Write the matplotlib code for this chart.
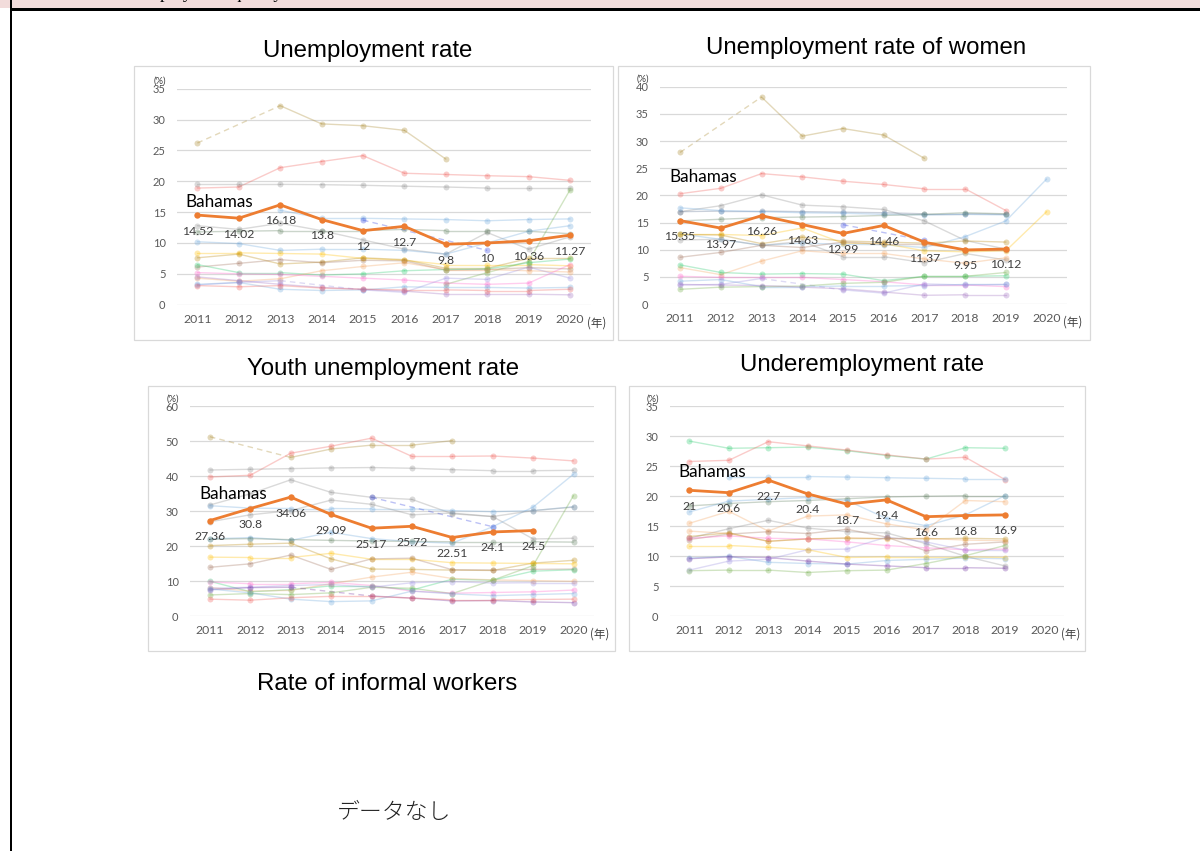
import matplotlib
matplotlib.use("Agg")
import matplotlib.pyplot as plt
import numpy as np
from matplotlib.patches import Rectangle

W, H = 1200, 851
N = None

years = ["2011", "2012", "2013", "2014", "2015", "2016", "2017", "2018", "2019", "2020"]

# ---------------- data ----------------
# Colours of the comparison countries (drawn faded)
TAN = '#A8872A'; SALMON = '#F0605A'; GRAY = '#8C8C8C'; LBLUE = '#6FA8DC'
BLUEGRAY = '#5B6F8E'; GREENGRAY = '#5E7F5E'; YELLOW = '#FFC000'; GOLD = '#B8860B'
BROWN = '#A0705A'; GREEN = '#70AD47'; MINT = '#2ECC71'; ORANGEL = '#F4A460'
PINK = '#FF66CC'; PURPLE = '#7030A0'; LPURPLE = '#9B8FE0'; BLUE = '#3040E0'; MAUVE = '#A070C0'

bah_unemp = [14.52, 14.02, 16.18, 13.8, 12, 12.7, 9.8, 10, 10.36, 11.27]
others_unemp = [
    (TAN,      [26.2, N, 32.25, 29.3, 29.0, 28.25, 23.6, N, N, N]),
    (SALMON,   [18.9, 19.07, 22.2, 23.2, 24.15, 21.3, 21.1, 20.9, 20.75, 20.15]),
    (GRAY,     [19.5, 19.5, 19.5, 19.45, 19.35, 19.2, 19.07, 18.9, 18.9, 18.9]),
    (LBLUE,    [N, N, 15.3, 14.0, 14.0, 13.9, 13.8, 13.6, 13.8, 13.9]),
    (BLUE,     [N, N, N, N, 13.7, N, N, 8.8, N, N]),
    (GRAY,     [12.8, 12.2, 13.2, 12.0, 10.5, 9.0, 8.2, 11.7, 9.0, 11.0]),
    (GREENGRAY,[11.8, 11.9, 12.0, 12.0, 12.0, 12.2, 12.0, 12.0, 11.9, 11.5]),
    (LBLUE,    [10.2, 9.9, 8.8, 9.0, 9.0, 8.8, 8.2, 10.0, 11.9, 12.8]),
    (YELLOW,   [8.4, 8.4, 8.3, 8.2, 7.5, 7.2, 6.5, 6.5, 6.5, 6.3]),
    (GOLD,     [7.6, 8.2, 6.6, 6.9, 7.6, 7.3, 5.9, 5.9, 7.5, 7.5]),
    (BROWN,    [6.1, 6.7, 7.3, 6.8, 7.2, 7.1, 5.6, 5.7, 6.0, 5.8]),
    (MINT,     [6.5, 5.2, 5.2, 4.8, 5.0, 5.5, 5.7, 5.8, 6.8, 7.4]),
    (GREEN,    [N, N, N, N, N, N, 3.3, 5.2, 7.0, 18.6]),
    (ORANGEL,  [4.3, 3.8, 4.2, 5.5, 6.2, 6.8, 5.7, 5.7, 5.5, 5.3]),
    (PINK,     [5.2, 5.0, 4.9, 4.6, 4.3, 4.0, 3.5, 3.3, 3.5, 6.5]),
    (LPURPLE,  [3.2, 3.6, 3.9, N, 2.4, 2.0, 4.3, 4.1, 6.1, 4.3]),
    (LBLUE,    [3.3, 3.6, 2.5, 2.3, 2.4, 2.9, 2.8, 2.8, 2.7, 2.8]),
    (MAUVE,    [4.5, 3.9, 3.3, 2.8, 2.5, 2.2, 1.7, 1.7, 1.7, 1.6]),
    (SALMON,   [3.1, 2.9, 3.1, 2.7, 2.5, 2.4, 2.4, 2.3, 2.3, 2.5]),
]

bah_women = [15.35, 13.97, 16.26, 14.63, 12.99, 14.46, 11.37, 9.95, 10.12, N]
others_women = [
    (TAN,      [27.9, N, 38.1, 30.9, 32.3, 31.1, 26.8, N, N, N]),
    (SALMON,   [20.3, 21.3, 24.0, 23.4, 22.6, 22.0, 21.2, 21.2, 17.2, N]),
    (GRAY,     [17.0, 18.1, 20.1, 18.2, 17.9, 17.4, 15.3, 11.7, 10.1, N]),
    (BLUEGRAY, [17.0, 17.1, 17.1, 17.0, 16.9, 16.8, 16.6, 16.6, 16.5, N]),
    (LBLUE,    [17.7, 17.2, 17.0, 16.8, 16.7, 16.5, 16.4, 16.5, 16.4, N]),
    (GREENGRAY,[15.3, 15.6, 15.9, 16.0, 16.1, 16.3, 16.5, 16.8, 16.6, N]),
    (LBLUE,    [12.9, 11.9, 10.8, 11.2, 11.0, 10.9, 10.4, 12.4, 15.3, 23.0]),
    (BLUE,     [N, N, N, N, 14.6, N, 11.7, N, N, N]),
    (YELLOW,   [12.8, 12.8, 12.6, 14.0, 11.2, 11.1, 9.8, 9.6, 9.8, 17.0]),
    (GOLD,     [12.8, 12.7, 11.1, 12.3, 11.6, 11.4, 11.2, 11.6, 11.4, N]),
    (GRAY,     [11.8, 11.9, 10.8, 11.5, 8.7, 8.7, 7.6, 9.3, 8.1, N]),
    (BROWN,    [8.6, 9.5, 10.8, 10.4, 11.4, 11.0, 11.0, 10.0, 10.0, N]),
    (ORANGEL,  [6.7, 5.4, 7.9, 9.8, 9.3, 9.3, 8.3, 7.5, 8.5, N]),
    (MINT,     [7.2, 5.8, 5.5, 5.6, 5.5, 4.3, 5.1, 5.1, 5.2, N]),
    (PINK,     [5.1, 4.9, 4.9, 4.9, 4.5, 4.1, 3.5, 3.5, 3.2, N]),
    (LBLUE,    [4.2, 4.5, 3.2, 3.2, 3.3, 3.3, 3.4, 3.6, 3.6, N]),
    (LPURPLE,  [3.5, 3.6, 4.7, N, 2.6, 2.0, 3.7, 3.5, 3.6, N]),
    (GREEN,    [2.7, 3.1, 3.2, 3.3, 3.8, 4.0, 5.1, 5.1, 5.8, N]),
    (MAUVE,    [3.6, 3.5, 3.4, 3.1, 2.8, 2.2, 1.6, 1.7, 1.7, N]),
]

bah_youth = [27.36, 30.8, 34.06, 29.09, 25.17, 25.72, 22.51, 24.1, 24.5, N]
others_youth = [
    (TAN,      [51.3, N, 45.4, 47.8, 48.9, 48.9, 50.2, N, N, N]),
    (SALMON,   [39.8, 40.3, 46.6, 48.6, 50.9, 45.7, 45.7, 45.8, 45.2, 44.4]),
    (GRAY,     [41.8, 42.0, 42.2, 42.4, 42.5, 42.3, 41.9, 41.6, 41.6, 41.7]),
    (GRAY,     [31.8, 35.0, 39.0, 35.4, 34.0, 33.4, 29.3, 28.5, 22.1, 22.3]),
    (LBLUE,    [31.6, 30.9, 30.8, 30.8, 30.7, 30.7, 30.2, 29.9, 30.2, 31.3]),
    (LBLUE,    [22.1, 22.5, 21.7, 24.0, 22.2, 21.3, 20.9, 25.6, 31.2, 40.6]),
    (GRAY,     [27.0, 29.0, 30.2, 33.2, 32.0, 29.0, 29.5, 28.5, 30.2, 31.2]),
    (BLUE,     [N, N, N, N, 34.0, N, N, 25.6, N, N]),
    (GREENGRAY,[22.0, 22.2, 21.9, 21.7, 21.5, 21.4, 21.3, 21.3, 21.3, 21.2]),
    (GOLD,     [20.2, 20.6, 20.9, 16.4, 13.5, 13.4, 13.2, 13.1, 15.2, 16.0]),
    (YELLOW,   [16.9, 16.8, 16.8, 18.0, 16.3, 16.3, 15.3, 15.2, 15.1, 15.0]),
    (BROWN,    [14.0, 15.0, 17.5, 13.4, 16.4, 16.6, 13.3, 13.2, 13.4, 13.5]),
    (GREEN,    [6.1, 6.5, 6.2, 6.7, 8.3, 8.0, 6.5, 10.3, 14.5, 34.5]),
    (MINT,     [10.0, 7.0, 7.6, 8.7, 8.7, 7.5, 10.6, 10.3, 12.9, 13.3]),
    (ORANGEL,  [8.2, 7.2, 7.4, 9.3, 11.2, 12.6, 10.8, 10.4, 10.2, 10.0]),
    (PINK,     [9.8, 9.3, 9.3, 9.7, 8.8, 7.2, 6.6, 6.8, 7.0, 7.5]),
    (LPURPLE,  [8.0, 8.3, 8.8, 9.1, 8.3, 9.6, 9.9, 9.5, 9.6, 9.6]),
    (PURPLE,   [7.6, 8.2, 8.3, N, 5.8, 5.2, 4.4, 4.5, 4.1, 3.9]),
    (LBLUE,    [7.8, 6.7, 4.9, 4.2, 4.4, 7.2, 6.4, 5.9, 6.2, 6.5]),
    (SALMON,   [4.9, 4.6, 5.3, 5.7, 5.7, 5.2, 4.7, 4.7, 4.8, 4.9]),
]

bah_under = [21, 20.6, 22.7, 20.4, 18.7, 19.4, 16.6, 16.8, 16.9, N]
others_under = [
    (MINT,     [29.2, 28.0, 28.1, 28.2, 27.6, 26.8, 26.2, 28.1, 28.0, N]),
    (SALMON,   [25.8, 26.0, 29.1, 28.4, 27.7, 26.9, 26.2, 26.5, 22.8, N]),
    (LBLUE,    [N, 23.3, 23.3, 23.3, 23.2, 23.1, 23.0, 22.9, 22.9, N]),
    (GREENGRAY,[18.4, 18.8, 19.1, 19.3, 19.6, 19.9, 20.0, 20.1, 20.1, N]),
    (LBLUE,    [17.4, 19.2, 19.5, 19.8, 19.3, 16.3, 15.1, 16.9, 20.1, N]),
    (ORANGEL,  [15.5, 17.5, 14.2, 16.7, 16.9, 15.4, 14.4, 19.3, 19.1, N]),
    (GRAY,     [13.0, 14.6, 16.0, 14.7, 14.1, 13.9, 12.1, 10.0, 8.4, N]),
    (BROWN,    [12.8, 13.7, 14.1, 13.8, 14.5, 13.2, 10.9, 12.0, 12.4, N]),
    (ORANGEL,  [14.2, 13.8, 12.5, 12.9, 13.1, 12.9, 13.0, 12.7, 12.6, N]),
    (GOLD,     [13.3, 13.9, 12.5, 12.9, 13.0, 13.0, 12.9, 13.0, 12.9, N]),
    (PINK,     [13.0, 13.4, 13.0, 12.9, 12.4, 11.8, 11.4, 11.1, 11.2, N]),
    (LPURPLE,  [7.7, 9.2, 9.5, 11.1, 11.2, 13.2, 12.4, 11.0, 11.0, N]),
    (YELLOW,   [11.8, 11.8, 11.5, 11.1, 9.8, 9.9, 9.9, 9.9, 9.8, N]),
    (LBLUE,    [9.7, 10.0, 9.0, 8.8, 8.7, 9.3, 9.5, 9.7, 9.6, N]),
    (PURPLE,   [9.6, 9.9, 9.8, 9.2, 8.7, 8.4, 8.1, 8.1, 8.0, N]),
    (GREEN,    [7.6, 7.7, 7.7, 7.3, 7.6, 7.7, 8.8, 10.1, 11.8, N]),
]

titles = ["Unemployment rate", "Unemployment rate of women",
          "Youth unemployment rate", "Underemployment rate",
          "Rate of informal workers"]
no_data_text = "データなし"
country = "Bahamas"

# ---------------- figure ----------------
plt.rcParams['font.family'] = ['Lato', 'DejaVu Sans']
fig = plt.figure(figsize=(W / 100, H / 100), dpi=100)
fig.patch.set_facecolor('white')


def fx(x):
    return x / W


def fy(y):
    return 1 - y / H


# page decorations
fig.add_artist(Rectangle((0, fy(8)), 1, 8 / H, transform=fig.transFigure,
                         facecolor='#F2DCDB', edgecolor='none', zorder=0))
fig.add_artist(Rectangle((fx(10), fy(10.5)), 1, 2.5 / H, transform=fig.transFigure,
                         facecolor='black', edgecolor='none', zorder=5))
fig.add_artist(Rectangle((fx(10), 0), 2 / W, 1, transform=fig.transFigure,
                         facecolor='black', edgecolor='none', zorder=5))
fig.text(fx(135), fy(-1.5), "Employment quality", family='Liberation Serif',
         fontsize=13, va='baseline', ha='left', color='black')


def frame(l, t, r, b):
    fig.add_artist(Rectangle((fx(l), fy(b)), (r - l) / W, (b - t) / H,
                             transform=fig.transFigure, fill=False,
                             edgecolor='#D9D9D9', lw=0.9, zorder=1))


def draw_series(ax, vals, color, alpha, lw, ms, z):
    idx = [i for i, v in enumerate(vals) if v is not None]
    for a, b in zip(idx[:-1], idx[1:]):
        ls = '-' if b == a + 1 else (0, (4, 3))
        ax.plot([a, b], [vals[a], vals[b]], color=color, alpha=alpha, lw=lw,
                ls=ls, zorder=z, solid_capstyle='round')
    ax.plot(idx, [vals[i] for i in idx], ls='none', marker='o', ms=ms,
            color=color, alpha=alpha, markeredgewidth=0, zorder=z + 0.1)


def panel(l, r, t, b, ymax, step, others, bah, label_xy, frame_box, title, title_xy):
    frame(*frame_box)
    ax = fig.add_axes([fx(l), fy(b), (r - l) / W, (b - t) / H])
    ax.set_xlim(-0.5, 9.5)
    ax.set_ylim(0, ymax)
    ax.set_yticks(np.arange(0, ymax + 0.1, step))
    ax.set_yticklabels([f"{int(v)}" for v in np.arange(0, ymax + 0.1, step)],
                       fontsize=8, color='#595959')
    ax.set_xticks(range(len(years)))
    ax.set_xticklabels(years, fontsize=8.8, color='#595959')
    ax.tick_params(axis='both', length=0)
    ax.tick_params(axis='y', pad=8)
    ax.tick_params(axis='x', pad=6.5)
    for s in ax.spines.values():
        s.set_visible(False)
    ax.grid(axis='y', color='#D9D9D9', lw=0.9)
    ax.set_axisbelow(True)
    ax.patch.set_alpha(0)
    for col, vals in others:
        draw_series(ax, vals, col, 0.32, 1.0, 4.3, 2)
    draw_series(ax, bah, '#ED7D31', 1.0, 2.0, 4.6, 10)
    for i, v in enumerate(bah):
        if v is not None:
            ax.annotate(f"{v:g}", (i, v), xytext=(0, -11.5), textcoords='offset points',
                        ha='center', va='center', fontsize=8.8, color='#404040', zorder=12)
    ax.annotate("(%)", xy=(0, 1), xycoords='axes fraction', xytext=(-12, 5.5),
                textcoords='offset points', ha='center', va='center',
                fontsize=6.8, color='#404040')
    ax.annotate("(年)", xy=(9, 0), xycoords=('data', 'axes fraction'), xytext=(12, -13),
                textcoords='offset points', ha='left', va='center', fontsize=8.3,
                color='#404040', family=['Noto Sans CJK JP', 'DejaVu Sans'])
    fig.text(fx(label_xy[0]), fy(label_xy[1]), country, fontsize=12.3, color='black',
             ha='left', va='center')
    fig.text(fx(title_xy[0]), fy(title_xy[1]), title, family='Liberation Sans',
             fontsize=17.3, ha='center', va='baseline', color='black')
    return ax


panel(176.7, 590.7, 88.7, 304.7, 35, 5, others_unemp, bah_unemp, (185, 202),
      (134, 66, 613, 340), titles[0], (368, 57))
panel(659.7, 1067, 86.7, 304, 40, 5, others_women, bah_women, (669, 177),
      (618, 66, 1090, 340), titles[1], (866, 54))
panel(189.7, 593.7, 406.3, 616.3, 60, 10, others_youth, bah_youth, (199, 494),
      (148, 386, 615, 651), titles[2], (383, 375))
panel(669.7, 1064, 406.3, 616.3, 35, 5, others_under, bah_under, (678, 472),
      (629, 386, 1085, 651), titles[3], (862, 371))

fig.text(fx(387.5), fy(690), titles[4], family='Liberation Sans', fontsize=17.3,
         ha='center', va='baseline', color='black')
fig.text(fx(394), fy(813), no_data_text, family=['Noto Sans CJK JP', 'DejaVu Sans'],
         fontsize=16.5, ha='center', va='center', color='#222222', fontweight='light')

fig.savefig("out.png", dpi=100, facecolor='white')
